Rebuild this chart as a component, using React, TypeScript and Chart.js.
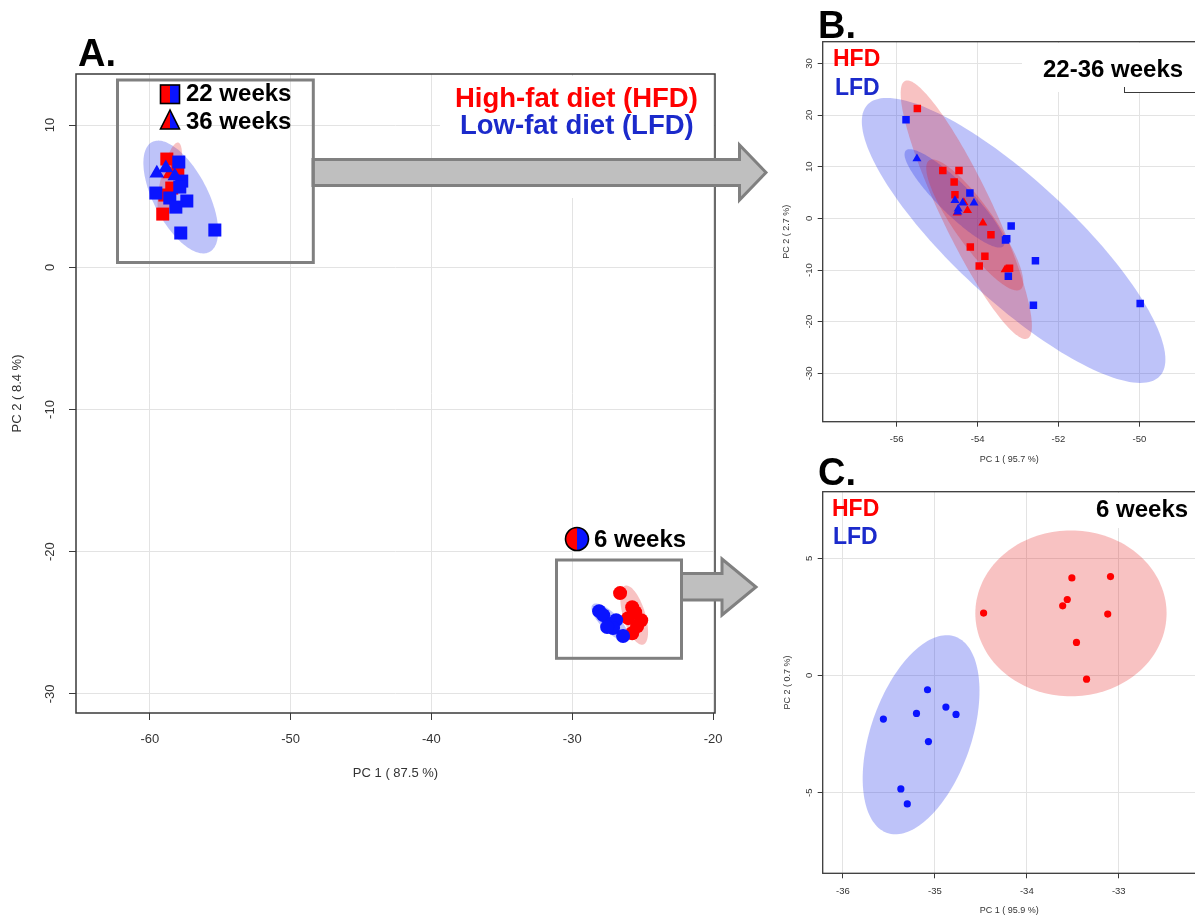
import React, { useEffect, useRef } from 'react';
import { Chart, registerables } from 'chart.js';

Chart.register(...registerables);

type Pt = [number, number];
interface Ell { c: Pt; a: Pt; b: Pt; color: string; }

const FONT = "'Liberation Sans', Arial, Helvetica, sans-serif";
const RED = '#FF0000';
const BLUE = '#0A14FF';
const RED_FILL = 'rgba(228,30,30,0.27)';
const BLUE_FILL = 'rgba(20,40,235,0.28)';
const TXT_RED = '#FF0000';
const TXT_BLUE = '#1B2ACB';

// ---------- Panel A (all time points) ----------
const aXTicks = [-60, -50, -40, -30, -20];
const aYTicks = [10, 0, -10, -20, -30];
const aHfd22: Pt[] = [[-58.79, 7.61], [-58.01, 6.77], [-58.44, 5.57], [-58.93, 5.08], [-59.08, 3.74]];
const aLfd22: Pt[] = [[-57.94, 7.4], [-57.73, 6.06], [-59.57, 5.22], [-58.58, 4.87], [-57.37, 4.66], [-58.15, 4.23], [-57.8, 2.41], [-55.38, 2.62], [-57.87, 5.64]];
const aHfd36: Pt[] = [[-58.58, 6.55]];
const aLfd36: Pt[] = [[-59.5, 6.62], [-58.86, 6.98], [-58.22, 6.41]];
const aHfd6: Pt[] = [[-26.6, -22.91], [-25.74, -23.9], [-25.53, -24.25], [-25.1, -24.82], [-25.39, -25.24], [-25.74, -25.73], [-26.03, -24.67]];
const aLfd6: Pt[] = [[-28.09, -24.18], [-27.8, -24.46], [-27.24, -25.09], [-26.88, -24.81], [-27.1, -25.37], [-26.39, -25.93], [-27.52, -25.3]];
const aEllipses: Ell[] = [
  { c: [-57.8, 4.94], a: [2.03, -3.87], b: [1.71, 0.87], color: BLUE_FILL },
  { c: [-58.58, 6.13], a: [-0.6, -2.64], b: [0.63, -0.14], color: RED_FILL },
  { c: [-27.31, -24.95], a: [1.24, -1.23], b: [0.45, 0.45], color: BLUE_FILL },
  { c: [-25.6, -24.46], a: [0.64, -2.07], b: [0.75, 0.23], color: RED_FILL },
];

// ---------- Panel B (22-36 weeks) ----------
const bXTicks = [-56, -54, -52, -50];
const bYTicks = [30, 20, 10, 0, -10, -20, -30];
const bHfd22: Pt[] = [[-55.49, 21.28], [-54.86, 9.28], [-54.46, 9.28], [-54.58, 7.04], [-54.56, 4.58], [-53.67, -3.15], [-54.18, -5.54], [-53.82, -7.35], [-53.96, -9.21], [-53.21, -9.67]];
const bHfd36: Pt[] = [[-54.34, 3.1], [-54.25, 1.55], [-53.87, -0.89], [-53.32, -9.92], [-54.51, 1.04]];
const bLfd22: Pt[] = [[-55.77, 19.09], [-54.19, 4.91], [-53.17, -1.47], [-53.28, -3.93], [-53.31, -4.18], [-52.57, -8.18], [-53.24, -11.22], [-52.62, -16.83], [-49.98, -16.5]];
const bLfd36: Pt[] = [[-55.5, 11.55], [-54.56, 3.48], [-54.37, 2.98], [-54.09, 2.98], [-54.48, 1.82], [-54.49, 1.24]];
const bEllipses: Ell[] = [
  { c: [-53.11, -4.27], a: [3.616, -26.25], b: [-1.005, -8.47], color: BLUE_FILL },
  { c: [-54.28, 1.68], a: [1.515, -24.93], b: [-0.58, -2.16], color: RED_FILL },
  { c: [-54.57, 3.87], a: [1.205, -9.26], b: [-0.277, -2.2], color: BLUE_FILL },
  { c: [-54.07, -1.28], a: [1.131, -12.48], b: [-0.4, -2.24], color: RED_FILL },
];

// ---------- Panel C (6 weeks) ----------
const cXTicks = [-36, -35, -34, -33];
const cYTicks = [5, 0, -5];
const cHfd: Pt[] = [[-34.47, 2.66], [-33.51, 4.16], [-33.56, 3.24], [-33.61, 2.97], [-33.09, 4.22], [-33.12, 2.62], [-33.46, 1.41], [-33.35, -0.16]];
const cLfd: Pt[] = [[-35.08, -0.61], [-34.88, -1.35], [-34.77, -1.66], [-35.2, -1.62], [-35.56, -1.86], [-35.07, -2.82], [-35.37, -4.84], [-35.3, -5.48]];
const cEllipses: Ell[] = [
  { c: [-33.52, 2.65], a: [1.04, 0], b: [0, 3.54], color: RED_FILL },
  { c: [-35.15, -2.53], a: [0.369, 4.19], b: [0.517, -0.7], color: BLUE_FILL },
];

interface Series { data: Pt[]; style: string; color: string; r: number; }
interface Spec {
  xMin: number; xMax: number; yMin: number; yMax: number;
  xTicks: number[]; yTicks: number[];
  xTitle: string; yTitle: string;
  series: Series[]; ellipses: Ell[];
  tickFont: number; titleFont: number; tickLen: number;
  padTop: number; padRight: number; yWidth: number; xHeight: number;
  xTickPad: number; xTitlePad: number; yTickPad: number; yTitlePad: number;
  frameWidth: number;
}

function ellipsePlugin(items: Ell[]) {
  return {
    id: 'confEllipses',
    beforeDatasetsDraw(chart: any) {
      const { ctx, chartArea, scales } = chart;
      const xs = scales.x, ys = scales.y;
      ctx.save();
      ctx.beginPath();
      ctx.rect(chartArea.left, chartArea.top, chartArea.right - chartArea.left, chartArea.bottom - chartArea.top);
      ctx.clip();
      for (const e of items) {
        ctx.beginPath();
        const n = 160;
        for (let i = 0; i <= n; i++) {
          const t = (i / n) * Math.PI * 2;
          const vx = e.c[0] + e.a[0] * Math.cos(t) + e.b[0] * Math.sin(t);
          const vy = e.c[1] + e.a[1] * Math.cos(t) + e.b[1] * Math.sin(t);
          const px = xs.getPixelForValue(vx);
          const py = ys.getPixelForValue(vy);
          if (i === 0) ctx.moveTo(px, py); else ctx.lineTo(px, py);
        }
        ctx.closePath();
        ctx.fillStyle = e.color;
        ctx.fill();
      }
      ctx.restore();
    },
  };
}

function framePlugin(width: number) {
  return {
    id: 'frame',
    afterDatasetsDraw(chart: any) {
      const { ctx, chartArea } = chart;
      ctx.save();
      ctx.strokeStyle = '#3a3a3a';
      ctx.lineWidth = width;
      ctx.strokeRect(chartArea.left, chartArea.top, chartArea.right - chartArea.left, chartArea.bottom - chartArea.top);
      ctx.restore();
    },
  };
}

function buildConfig(s: Spec): any {
  const grid = { color: '#e3e3e3', lineWidth: 1, drawTicks: true, tickLength: s.tickLen, tickColor: '#3a3a3a', tickWidth: 1 };
  return {
    type: 'scatter',
    data: {
      datasets: s.series.map((se) => ({
        data: se.data.map(([x, y]) => ({ x, y })),
        pointStyle: se.style,
        backgroundColor: se.color,
        borderColor: se.color,
        borderWidth: 0,
        pointRadius: se.r,
        pointHoverRadius: se.r,
      })),
    },
    options: {
      responsive: false,
      animation: false,
      devicePixelRatio: 1,
      events: [],
      layout: { padding: { top: s.padTop, right: s.padRight, left: 0, bottom: 0 }, autoPadding: false },
      plugins: { legend: { display: false }, tooltip: { enabled: false } },
      scales: {
        x: {
          type: 'linear', position: 'bottom', min: s.xMin, max: s.xMax,
          afterBuildTicks: (sc: any) => { sc.ticks = s.xTicks.map((v) => ({ value: v })); },
          afterFit: (sc: any) => { sc.height = s.xHeight; sc.paddingLeft = 0; sc.paddingRight = 0; sc.paddingTop = 0; sc.paddingBottom = 0; },
          grid, border: { display: false },
          ticks: { autoSkip: false, maxRotation: 0, minRotation: 0, padding: s.xTickPad, color: '#333', font: { family: FONT, size: s.tickFont }, callback: (v: any) => String(v) },
          title: { display: true, text: s.xTitle, color: '#333', font: { family: FONT, size: s.titleFont }, padding: { top: 0, bottom: s.xTitlePad } },
        },
        y: {
          type: 'linear', position: 'left', min: s.yMin, max: s.yMax,
          afterBuildTicks: (sc: any) => { sc.ticks = s.yTicks.map((v) => ({ value: v })); },
          afterFit: (sc: any) => { sc.width = s.yWidth; sc.paddingLeft = 0; sc.paddingRight = 0; sc.paddingTop = 0; sc.paddingBottom = 0; },
          grid, border: { display: false },
          ticks: { autoSkip: false, minRotation: 90, maxRotation: 90, crossAlign: 'center', padding: s.yTickPad, color: '#333', font: { family: FONT, size: s.tickFont }, callback: (v: any) => String(v) },
          title: { display: true, text: s.yTitle, color: '#333', font: { family: FONT, size: s.titleFont }, padding: { top: s.yTitlePad, bottom: 0 } },
        },
      },
    },
    plugins: [ellipsePlugin(s.ellipses), framePlugin(s.frameWidth)],
  };
}

const specA: Spec = {
  xMin: -65.24, xMax: -19.86, yMin: -31.34, yMax: 13.59,
  xTicks: aXTicks, yTicks: aYTicks, xTitle: 'PC 1 ( 87.5 %)', yTitle: 'PC 2 ( 8.4 %)',
  series: [
    { data: aLfd36, style: 'triangle', color: BLUE, r: 8.5 },
    { data: aLfd22, style: 'rect', color: BLUE, r: 9.2 },
    { data: aLfd6, style: 'circle', color: BLUE, r: 7 },
    { data: aHfd36, style: 'triangle', color: RED, r: 8.5 },
    { data: aHfd22, style: 'rect', color: RED, r: 9.2 },
    { data: aHfd6, style: 'circle', color: RED, r: 7 },
  ],
  ellipses: aEllipses,
  tickFont: 13, titleFont: 13, tickLen: 7,
  padTop: 14, padRight: 15, yWidth: 76, xHeight: 87,
  xTickPad: 12, xTitlePad: 19, yTickPad: 9.5, yTitlePad: 10,
  frameWidth: 1.5,
};

const specB: Spec = {
  xMin: -57.83, xMax: -48.6, yMin: -39.36, yMax: 34.2,
  xTicks: bXTicks, yTicks: bYTicks, xTitle: 'PC 1 ( 95.7 %)', yTitle: 'PC 2 ( 2.7 %)',
  series: [
    { data: bLfd36, style: 'triangle', color: BLUE, r: 5.2 },
    { data: bLfd22, style: 'rect', color: BLUE, r: 5.3 },
    { data: bHfd36, style: 'triangle', color: RED, r: 5.2 },
    { data: bHfd22, style: 'rect', color: RED, r: 5.3 },
  ],
  ellipses: bEllipses,
  tickFont: 9.5, titleFont: 9, tickLen: 5,
  padTop: 11.7, padRight: 0, yWidth: 46.7, xHeight: 48.3,
  xTickPad: 6.5, xTitlePad: 4.6, yTickPad: 1, yTitlePad: 5.6,
  frameWidth: 1.3,
};

const specC: Spec = {
  xMin: -36.22, xMax: -32.16, yMin: -8.44, yMax: 7.84,
  xTicks: cXTicks, yTicks: cYTicks, xTitle: 'PC 1 ( 95.9 %)', yTitle: 'PC 2 ( 0.7 %)',
  series: [
    { data: cLfd, style: 'circle', color: BLUE, r: 3.6 },
    { data: cHfd, style: 'circle', color: RED, r: 3.6 },
  ],
  ellipses: cEllipses,
  tickFont: 9.5, titleFont: 9, tickLen: 5,
  padTop: 11.7, padRight: 0, yWidth: 46.7, xHeight: 44.7,
  xTickPad: 7, xTitlePad: 1.6, yTickPad: 4.5, yTitlePad: 6.6,
  frameWidth: 1.3,
};

function PanelChart({ spec, left, top, w, h }: { spec: Spec; left: number; top: number; w: number; h: number }) {
  const ref = useRef<HTMLCanvasElement>(null);
  useEffect(() => {
    const chart = new Chart(ref.current as HTMLCanvasElement, buildConfig(spec));
    return () => chart.destroy();
  }, [spec]);
  return (
    <div style={{ position: 'absolute', left, top, width: w, height: h }}>
      <canvas ref={ref} width={w} height={h} style={{ width: w, height: h, display: 'block' }} />
    </div>
  );
}

function Txt({ x, top, size, color, children }: { x: number; top: number; size: number; color: string; children: React.ReactNode }) {
  return (
    <div style={{ position: 'absolute', left: x, top, fontFamily: FONT, fontWeight: 700, fontSize: size, lineHeight: `${size}px`, color, whiteSpace: 'nowrap' }}>
      {children}
    </div>
  );
}

function WhiteBox({ x, y, w, h }: { x: number; y: number; w: number; h: number }) {
  return <div style={{ position: 'absolute', left: x, top: y, width: w, height: h, background: '#fff' }} />;
}

export default function App() {
  const ARROW_FILL = '#BFBFBF';
  const GRAY = '#808080';
  return (
    <div style={{ position: 'fixed', left: 0, top: 0, width: 1195, height: 918, overflow: 'hidden', background: '#fff' }}>
      <PanelChart spec={specA} left={0} top={60} w={730} h={740} />
      <PanelChart spec={specB} left={776} top={30} w={420} h={440} />
      <PanelChart spec={specC} left={776} top={480} w={420} h={438} />

      <WhiteBox x={440} y={75.5} w={273} h={122} />
      <WhiteBox x={1022} y={43} w={173} h={49} />
      <div style={{ position: 'absolute', left: 1124, top: 87, width: 72, height: 5, borderLeft: '1px solid #3a3a3a', borderBottom: '1px solid #3a3a3a' }} />
      <WhiteBox x={1040} y={493} w={155} h={35} />

      <svg width={1195} height={918} style={{ position: 'absolute', left: 0, top: 0, pointerEvents: 'none' }}>
        <polygon points="313,159.5 739.5,159.5 739.5,145 766,172.5 739.5,200 739.5,185.5 313,185.5" fill={ARROW_FILL} stroke={GRAY} strokeWidth={3} strokeLinejoin="miter" />
        <polygon points="681.5,573.5 722,573.5 722,559 756,587 722,615 722,600 681.5,600" fill={ARROW_FILL} stroke={GRAY} strokeWidth={3} strokeLinejoin="miter" />
        <rect x={117.5} y={80} width={195.8} height={182.5} fill="none" stroke={GRAY} strokeWidth={3} />
        <rect x={556.5} y={560} width={125} height={98.3} fill="none" stroke={GRAY} strokeWidth={3} />

        <rect x={160.5} y={85} width={9.5} height={18.5} fill={RED} />
        <rect x={170} y={85} width={9.5} height={18.5} fill={BLUE} />
        <rect x={160.5} y={85} width={19} height={18.5} fill="none" stroke="#000" strokeWidth={1.6} />

        <polygon points="170,110 160.5,129 170,129" fill={RED} />
        <polygon points="170,110 179.5,129 170,129" fill={BLUE} />
        <polygon points="170,110 160.5,129 179.5,129" fill="none" stroke="#000" strokeWidth={1.6} strokeLinejoin="miter" />

        <path d="M577,527.5 A11.5,11.5 0 0 0 577,550.5 Z" fill={RED} />
        <path d="M577,527.5 A11.5,11.5 0 0 1 577,550.5 Z" fill={BLUE} />
        <circle cx={577} cy={539} r={11.5} fill="none" stroke="#000" strokeWidth={1.6} />
      </svg>

      <Txt x={78} top={34.4} size={38} color="#000">A.</Txt>
      <Txt x={818} top={5.9} size={38} color="#000">B.</Txt>
      <Txt x={818} top={452.9} size={38} color="#000">C.</Txt>

      <Txt x={186} top={80.7} size={24} color="#000">22 weeks</Txt>
      <Txt x={186} top={109.2} size={24} color="#000">36 weeks</Txt>
      <Txt x={455} top={83.5} size={27.5} color={TXT_RED}>High-fat diet (HFD)</Txt>
      <Txt x={460} top={110.5} size={27.5} color={TXT_BLUE}>Low-fat diet (LFD)</Txt>
      <Txt x={594} top={527.2} size={24} color="#000">6 weeks</Txt>

      <Txt x={833} top={47.2} size={23} color={TXT_RED}>HFD</Txt>
      <Txt x={835} top={76.2} size={23} color={TXT_BLUE}>LFD</Txt>
      <Txt x={1043} top={56.7} size={24} color="#000">22-36 weeks</Txt>

      <Txt x={832} top={496.7} size={23} color={TXT_RED}>HFD</Txt>
      <Txt x={833} top={525.2} size={23} color={TXT_BLUE}>LFD</Txt>
      <Txt x={1096} top={497.2} size={24} color="#000">6 weeks</Txt>
    </div>
  );
}
